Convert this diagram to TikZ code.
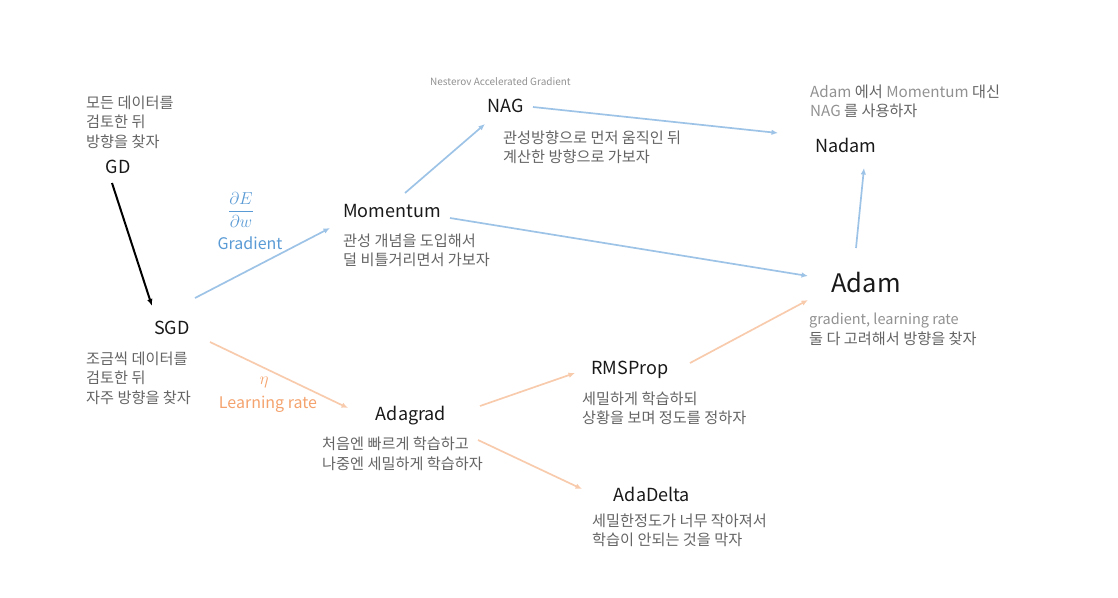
\documentclass[tikz,border=0pt]{standalone}
\usepackage{fontspec}
\setmainfont{Noto Sans CJK KR}
\usetikzlibrary{arrows.meta}

\definecolor{lineblue}{RGB}{157,195,230}
\definecolor{lineorange}{RGB}{248,203,173}
\definecolor{textblue}{RGB}{91,155,213}
\definecolor{textorange}{RGB}{244,163,110}
\definecolor{notegray}{RGB}{100,100,100}
\definecolor{latgray}{RGB}{145,145,145}

\newcommand{\lat}[1]{\textcolor{latgray}{#1}}

\tikzset{
    algo/.style={inner sep=0pt, text=black!90, font=\fontsize{18}{22}\selectfont},
    note/.style={right, inner sep=0pt, align=left, text=notegray, font=\fontsize{15.2}{19.5}\selectfont},
    blue arrow/.style={-{Latex[length=6.5pt,width=5.5pt]}, lineblue, line width=1.7pt},
    orange arrow/.style={-{Latex[length=6.5pt,width=5.5pt]}, lineorange, line width=1.7pt},
}

\begin{document}
\begin{tikzpicture}[x=1pt, y=-1pt]
        \useasboundingbox (0,0) rectangle (1118,597);

        % algorithms
        \node[algo] (gd) at (118,167) {GD};
        \node[algo] (sgd) at (172,328) {SGD};
        \node[algo] (momentum) at (392,211) {Momentum};
        \node[algo] (nag) at (506,106) {NAG};
        \node[algo] (nadam) at (846,145) {Nadam};
        \node[algo, font=\fontsize{25.5}{30}\selectfont] (adam) at (866,283) {Adam};
        \node[algo] (adagrad) at (411,416) {Adagrad};
        \node[algo] (rmsprop) at (630,370) {RMSProp};
        \node[algo] (adadelta) at (652,494) {AdaDelta};

        % notes
        \node[note] (gdnote) at (86,122) {모든 데이터를\\검토한 뒤\\방향을 찾자};
        \node[note] (sgdnote) at (86,378) {조금씩 데이터를\\검토한 뒤\\자주 방향을 찾자};
        \node[note] (momnote) at (343,250.5) {관성 개념을 도입해서\\덜 비틀거리면서 가보자};
        \node[note, text=latgray, font=\fontsize{10}{12}\selectfont] (nagfull) at (430,82) {Nesterov Accelerated Gradient};
        \node[note] (nagnote) at (503,147.5) {관성방향으로 먼저 움직인 뒤\\계산한 방향으로 가보자};
        \node[note] (nadamnote) at (810,101.5) {\lat{Adam} 에서 \lat{Momentum} 대신\\\lat{NAG} 를 사용하자};
        \node[note] (adamnote) at (809,329.5) {\lat{\fontsize{14.5}{19.5}\selectfont gradient, learning rate}\\둘 다 고려해서 방향을 찾자};
        \node[note] (rmsnote) at (582,408.5) {세밀하게 학습하되\\상황을 보며 정도를 정하자};
        \node[note] (adagradnote) at (322,454) {처음엔 빠르게 학습하고\\나중엔 세밀하게 학습하자};
        \node[note] (adadeltanote) at (592,530.5) {세밀한정도가 너무 작아져서\\학습이 안되는 것을 막자};

        % arrow labels
        \node[text=textblue, inner sep=0pt, font=\fontsize{18}{21}\selectfont] (grad) at (241,210) {$\displaystyle\frac{\partial E}{\partial w}$};
        \node[text=textblue, inner sep=0pt, font=\fontsize{16}{19}\selectfont] (gradlabel) at (250,243) {Gradient};
        \node[text=textorange, inner sep=0pt, font=\fontsize{17}{19}\selectfont] (eta) at (264,382) {$\eta$};
        \node[text=textorange, inner sep=0pt, font=\fontsize{16}{19}\selectfont] (lrlabel) at (268,404) {Learning rate};

        % connectors
        \draw[-{Latex[length=7pt,width=5.5pt]}, line width=2pt] ([shift={(-6,16)}]gd.center) -- ([shift={(-20,-22)}]sgd.center);

        \draw[blue arrow] ([shift={(23,-30)}]sgd.center) -- ([shift={(-62,17)}]momentum.center);
        \draw[blue arrow] ([shift={(13,-18)}]momentum.center) -- ([shift={(-21,18)}]nag.center);
        \draw[blue arrow] ([shift={(27,1)}]nag.center) -- ([shift={(-68,-12)}]nadam.center);
        \draw[blue arrow] ([shift={(58,7)}]momentum.center) -- ([shift={(-58,-7)}]adam.center);
        \draw[blue arrow] ([shift={(-10,-35)}]adam.center) -- ([shift={(18,23)}]nadam.center);

        \draw[orange arrow] ([shift={(38,14)}]sgd.center) -- ([shift={(-63,-8)}]adagrad.center);
        \draw[orange arrow] ([shift={(69,-10)}]adagrad.center) -- ([shift={(-55,3)}]rmsprop.center);
        \draw[orange arrow] ([shift={(60,-7)}]rmsprop.center) -- ([shift={(-58,17)}]adam.center);
        \draw[orange arrow] ([shift={(67,24)}]adagrad.center) -- ([shift={(-70,-5)}]adadelta.center);

    \end{tikzpicture}
\end{document}
